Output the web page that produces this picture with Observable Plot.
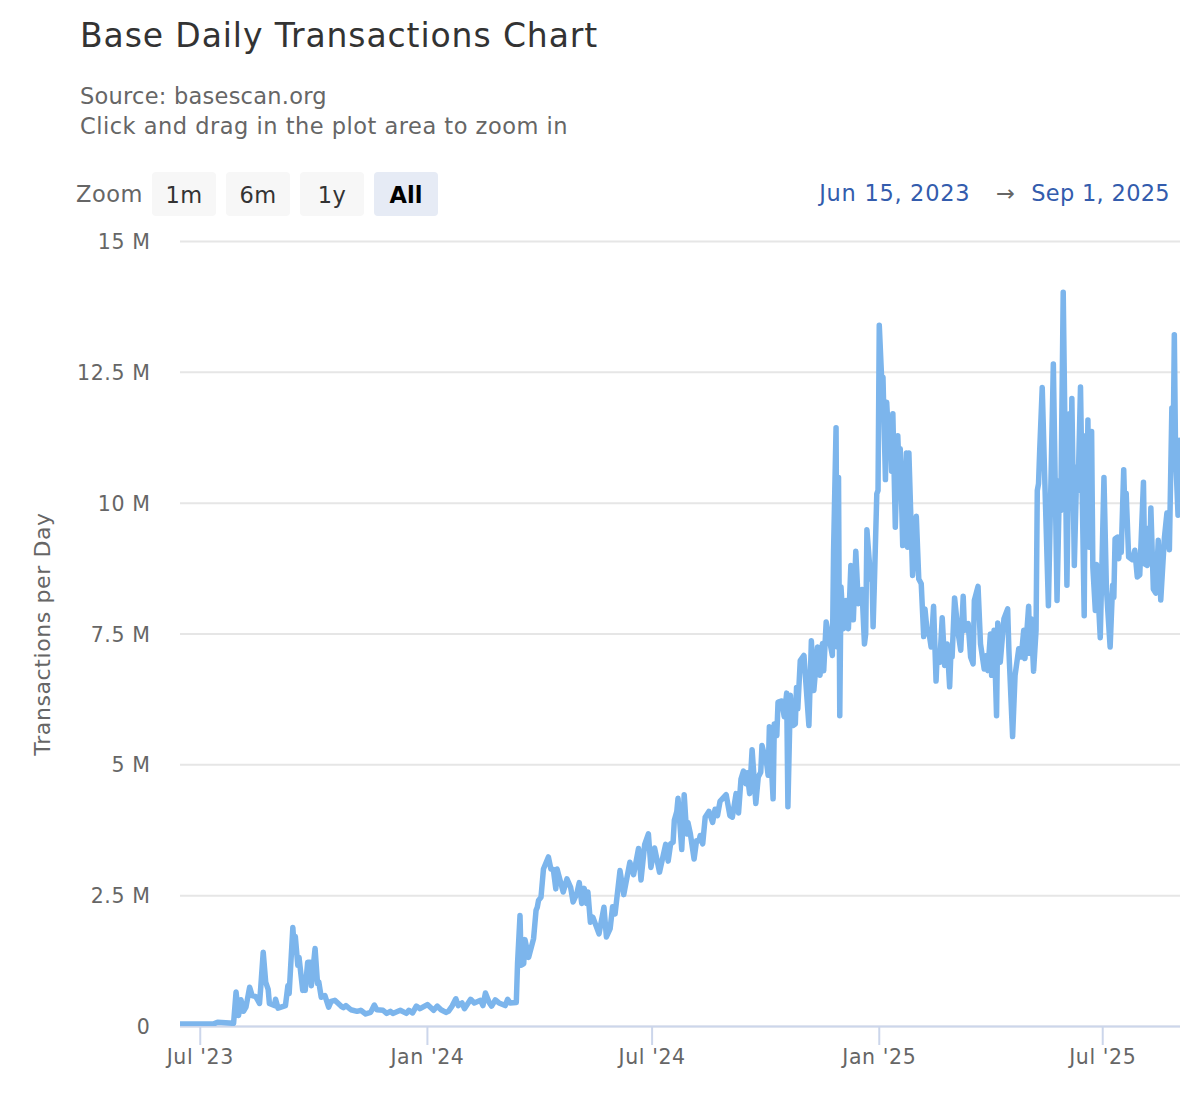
<!DOCTYPE html>
<html>
<head>
<meta charset="utf-8">
<script src="https://cdn.jsdelivr.net/npm/d3@7"></script>
<script src="https://cdn.jsdelivr.net/npm/@observablehq/plot@0.6"></script>
<style>
  body { margin: 0; background: #fff; font-family: "DejaVu Sans", sans-serif; letter-spacing: 0.5px; }
  svg text { letter-spacing: 0.6px; }
  #header { position: relative; width: 1200px; height: 230px; }
  #header div { position: absolute; white-space: nowrap; }
  #title { left: 80px; top: 16px; font-size: 33px; color: #333; letter-spacing: 0.9px; }
  #subtitle { left: 80px; top: 81px; font-size: 22.5px; line-height: 30px; color: #666; }
  #subtitle b { font-weight: normal; letter-spacing: 0.25px; }
  #zoomLabel { left: 76px; top: 181px; font-size: 22.5px; color: #666; }
  .btn { top: 172px; width: 64px; height: 44px; line-height: 47px; border-radius: 4px; background: #f7f7f7;
         text-align: center; font-size: 22.5px; color: #333; }
  .btn.on { background: #e6ebf5; color: #000; font-weight: bold; letter-spacing: 0; }
  #range { right: 30px; top: 180px; font-size: 22.5px; color: #335cad; letter-spacing: 0.3px; }
  #range b { font-weight: normal; letter-spacing: 0.7px; }
  #range span { color: #666; margin: 0 9px 0 18px; }
</style>
</head>
<body>
<div id="header">
  <div id="title">Base Daily Transactions Chart</div>
  <div id="subtitle"><b>Source: basescan.org</b><br>Click and drag in the plot area to zoom in</div>
  <div id="zoomLabel">Zoom</div>
  <div class="btn" style="left:152px">1m</div>
  <div class="btn" style="left:226px">6m</div>
  <div class="btn" style="left:300px">1y</div>
  <div class="btn on" style="left:374px">All</div>
  <div id="range"><b>Jun 15, 2023</b> <span>&#8594;</span> Sep 1, 2025</div>
</div>
<div id="chart"></div>
<script>
// days since Jun 15 2023
const dayOffset = [
  0,27,30,43,45,47,49,51,53,56,58,61,64,65,67,69,71,72,76,77,79,85,87,88,91,92,93,95,96,99,100,101,103,105,106,109,111,112,114,117,120,122,125,130,132,134,138,143,146,150,154,157,159,164,167,170,172,178,183,185,188,191,194,200,205,208,211,215,217,220,223,225,228,230,235,238,243,245,247,250,252,255,258,263,265,267,272,273,275,276,278,279,282,286,288,289,290,292,294,298,300,302,304,305,310,313,
  316,318,321,323,325,327,329,330,332,334,339,343,345,348,350,352,356,359,364,367,371,373,376,379,381,384,388,393,395,397,399,400,402,403,406,408,410,411,413,416,418,420,421,423,425,428,431,433,435,437,442,445,447,450,452,454,456,458,459,461,463,466,468,470,471,475,476,477,480,481,483,484,487,489,491,492,494,496,498,499,500,502,505,509,511,513,516,518,520,521,523,
  528,529,531,532,533,534,535,537,539,541,543,545,547,549,552,554,555,556,559,560,561,562,564,565,566,568,569,571,572,574,575,576,577,579,581,582,583,585,588,589,590,593,596,598,600,602,603,605,606,608,610,612,613,615,617,619,621,623,624,625,627,630,632,634,635,638,640,642,643,646,648,651,653,654,656,657,659,661,662,664,667,670,671,
  674,676,679,681,683,684,687,688,689,691,693,694,695,696,698,700,703,707,710,712,713,715,718,720,721,722,724,726,727,729,732,733,734,735,736,738,739,741,742,745,748,750,753,755,756,757,759,760,761,762,764,765,766,768,771,773,775,777,780,781,783,784,785,786,788,790,792,794,797,799,801,803,804,805,806,808,809
];
// transactions per day, millions
const txMillions = [
  0.05,0.05,0.08,0.06,0.66,0.21,0.51,0.29,0.37,0.75,0.59,0.57,0.44,0.75,1.42,0.85,0.71,0.44,0.40,0.52,0.35,0.40,0.78,0.63,1.89,1.52,1.72,1.17,1.32,0.69,0.88,0.69,1.23,1.23,0.78,1.49,0.82,0.85,0.56,0.59,0.37,0.48,0.50,0.39,0.36,0.40,0.32,0.29,0.31,0.24,0.27,0.41,0.32,0.31,0.25,0.29,0.25,0.31,0.25,0.31,0.26,0.39,0.34,0.42,0.31,0.39,0.32,0.27,0.29,0.39,0.53,0.40,0.45,0.34,0.52,0.45,0.50,0.40,0.64,0.46,0.39,0.51,0.45,0.40,0.52,0.45,0.46,1.20,2.12,1.17,1.20,1.66,1.32,1.68,2.22,2.28,2.41,2.47,3.01,3.24,3.01,3.00,2.63,3.01,2.57,2.82,
  2.66,2.38,2.54,2.75,2.35,2.64,2.35,2.57,1.99,2.09,1.77,2.28,1.71,1.87,2.29,2.15,2.98,2.52,3.14,2.90,3.40,2.80,3.48,3.68,3.04,3.41,2.95,3.48,3.16,3.49,3.52,3.94,4.11,4.36,3.38,4.43,3.68,3.90,3.68,3.20,3.55,3.55,3.65,3.49,4.00,4.11,3.90,4.15,4.03,4.30,4.43,4.03,4.00,4.45,4.08,4.73,4.88,4.64,4.85,4.45,5.29,4.26,4.77,4.86,5.37,4.99,4.80,5.73,4.35,5.78,5.56,6.20,6.22,5.92,6.37,4.20,6.33,5.75,5.78,6.48,6.07,6.99,7.09,5.75,7.37,6.42,7.25,6.71,7.32,6.80,7.73,
  7.09,9.10,11.44,7.25,10.49,5.94,8.40,7.60,8.14,7.60,8.81,7.77,9.08,8.08,8.35,7.31,7.50,9.49,8.55,8.78,7.64,8.43,10.18,10.24,13.40,12.34,12.41,10.45,11.93,11.04,11.39,10.61,11.71,9.54,11.29,10.66,11.04,9.19,10.96,9.16,10.96,8.62,9.75,8.55,8.46,7.45,7.98,7.50,7.57,7.25,8.03,6.60,7.16,6.96,7.81,6.90,7.31,6.49,7.12,7.06,8.19,7.50,7.19,8.22,7.57,7.70,7.06,6.93,8.14,8.41,7.31,6.83,7.09,6.80,7.50,6.71,7.57,5.94,7.71,6.96,7.79,7.98,7.19,
  5.54,6.71,7.22,7.06,7.57,7.03,8.03,7.13,7.79,6.79,7.57,10.24,10.37,11.04,12.21,10.50,8.04,12.66,8.14,10.43,9.86,14.03,8.43,11.71,9.92,12.00,8.81,10.69,10.24,12.22,7.85,11.29,9.80,11.59,9.16,11.37,8.78,7.95,8.83,7.43,10.49,8.36,7.25,8.43,8.20,9.32,9.35,8.94,9.35,9.06,10.64,9.80,10.19,8.97,8.92,9.10,8.59,8.63,10.40,8.84,8.81,9.52,8.90,9.91,8.36,8.28,9.29,8.15,9.35,9.81,9.11,11.82,10.95,13.22,10.94,9.77,11.20
];
const yTicks = [0, 2.5, 5, 7.5, 10, 12.5, 15];
const xTicks = ["2023-07-01", "2024-01-01", "2024-07-01", "2025-01-01", "2025-07-01"].map(d => new Date(d));

const start = new Date("2023-06-15");
const table = dayOffset.map((d, i) => ({date: d3.utcDay.offset(start, d), tx: txMillions[i]}));

const chart = Plot.plot({
  width: 1200,
  height: 860,
  marginLeft: 180,
  marginRight: 20,
  marginTop: 11,
  marginBottom: 64,
  style: {fontFamily: "DejaVu Sans", color: "#666", background: "#fff"},
  x: {type: "utc", domain: [start, d3.utcDay.offset(start, 810)]},
  y: {domain: [0, 15]},
  marks: [
    Plot.gridY(yTicks, {stroke: "#e6e6e6", strokeOpacity: 1, strokeWidth: 2}),
    Plot.axisY({
      ticks: yTicks,
      tickSize: 0,
      tickPadding: 30,
      fontSize: 20.5,
      dy: 1,
      tickFormat: d => d === 0 ? "0" : d + " M",
      label: null
    }),
    // axis title only, so it can be larger than the tick labels
    Plot.axisY({
      ticks: [],
      fontSize: 22,
      label: "Transactions per Day",
      labelAnchor: "center",
      labelArrow: "none",
      labelOffset: 146
    }),
    Plot.axisX({
      ticks: xTicks,
      tickSize: 19,
      tickPadding: 4,
      strokeWidth: 2,
      stroke: "#ccd6eb",
      fill: "#666",
      fontSize: 20.5,
      tickFormat: d3.utcFormat("%b '%y"),
      label: null
    }),
    Plot.ruleY([0], {stroke: "#ccd6eb", strokeWidth: 2}),
    Plot.line(table, {x: "date", y: "tx", stroke: "#7cb5ec", strokeWidth: 5.5, clip: true})
  ]
});
d3.select("#chart").append(() => chart);
</script>
</body>
</html>
